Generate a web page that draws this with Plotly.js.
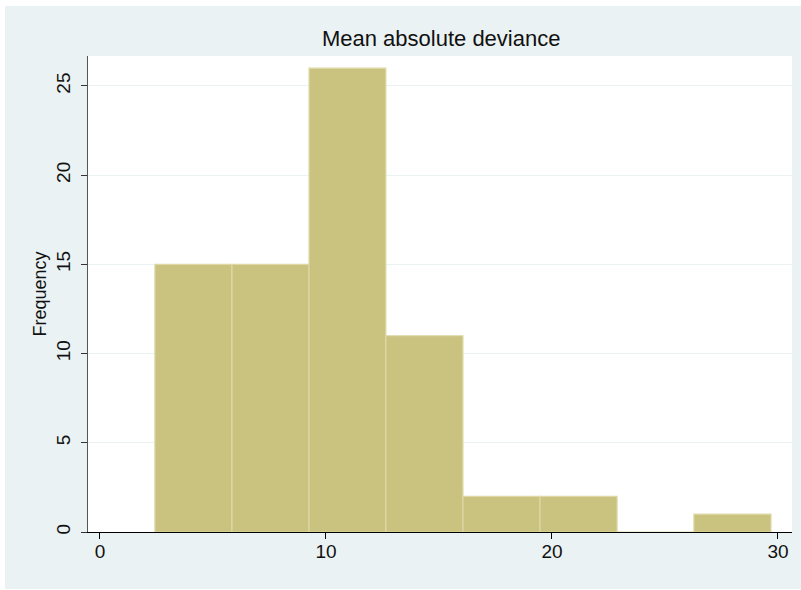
<!DOCTYPE html>
<html>
<head>
<meta charset="utf-8">
<script src="https://cdn.plot.ly/plotly-3.0.1.min.js"></script>
<style>
html,body{margin:0;padding:0;background:#ffffff;}
#chart{position:absolute;left:5px;top:6px;width:796px;height:583px;}
</style>
</head>
<body>
<div id="chart"></div>
<script>
// Histogram bin edges (x values) and frequencies per bin
const binEdges = [2.43, 5.84, 9.25, 12.65, 16.06, 19.47, 22.88, 26.28, 29.69];
const counts = [15, 15, 26, 11, 2, 2, 0, 1];
const xTicks = [0, 10, 20, 30];
const yTicks = [0, 5, 10, 15, 20, 25];

const centers = counts.map((c, i) => (binEdges[i] + binEdges[i + 1]) / 2);
const widths = counts.map((c, i) => binEdges[i + 1] - binEdges[i]);

const trace = {
  type: 'bar',
  x: centers,
  y: counts,
  width: widths,
  marker: {color: '#cac27f', line: {color: '#ddd8a6', width: 1.2}},
  hoverinfo: 'x+y'
};

const FONT = 'Liberation Sans, Arial, sans-serif';

const layout = {
  width: 796,
  height: 583,
  paper_bgcolor: '#eaf2f3',
  plot_bgcolor: '#ffffff',
  margin: {l: 83, r: 9, t: 50, b: 57},
  showlegend: false,
  title: {
    text: 'Mean absolute deviance',
    font: {family: FONT, size: 22, color: '#111111'},
    x: 0.548, xanchor: 'center',
    y: 1 - 32 / 583, yanchor: 'middle', yref: 'container'
  },
  xaxis: {
    range: [-0.53, 30.62],
    tickvals: xTicks,
    ticktext: xTicks.map(String),
    ticks: 'outside', ticklen: 6, tickcolor: '#000000', tickwidth: 1,
    ticklabelstandoff: -4,
    showline: true, linecolor: '#000000', linewidth: 1,
    showgrid: false, zeroline: false,
    tickfont: {family: FONT, size: 19, color: '#111111'}
  },
  yaxis: {
    range: [0, 26.68],
    tickvals: yTicks,
    ticktext: yTicks.map(String),
    tickangle: -90,
    ticks: 'outside', ticklen: 6, tickcolor: '#333333', tickwidth: 1,
    ticklabelstandoff: 3,
    showline: true, linecolor: '#555555', linewidth: 1,
    showgrid: true, gridcolor: '#eaf2f3', gridwidth: 1,
    zeroline: false,
    tickfont: {family: FONT, size: 19, color: '#111111'},
    title: {text: 'Frequency', standoff: 2,
      font: {family: FONT, size: 18, color: '#111111'}}
  },
  bargap: 0
};

Plotly.newPlot('chart', [trace], layout, {displayModeBar: false, staticPlot: true});
</script>
</body>
</html>
